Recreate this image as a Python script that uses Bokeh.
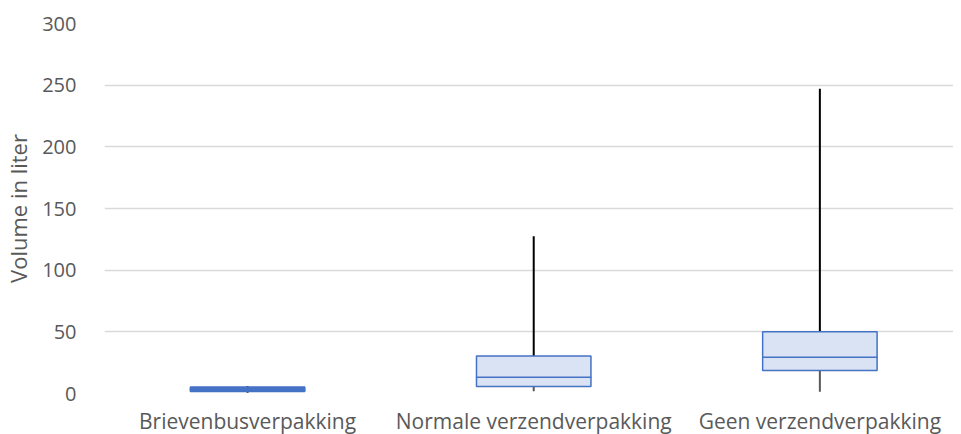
from bokeh.plotting import figure
from bokeh.models import FixedTicker, Range1d, ColumnDataSource
from bokeh.embed import file_html
from bokeh.resources import INLINE

# ---- data ----
categories = ["Brievenbusverpakking", "Normale verzendverpakking", "Geen verzendverpakking"]
positions = [0.5, 1.5, 2.5]
whisker_low = [0.5, 1.8, 1.4]
q1 = [1.6, 5.7, 18.7]
median = [3.0, 13.2, 29.4]
q3 = [5.3, 30.5, 50.0]
whisker_high = [6.0, 127.6, 247.0]
y_ticks = [0, 50, 100, 150, 200, 250, 300]

FONT = "Open Sans"
TXT = "#595959"
BLUE = "#4472C4"
FILL = ["#4472C4", "#DAE3F3", "#DAE3F3"]

p = figure(width=953, height=441, output_backend="svg", toolbar_location=None,
           x_range=Range1d(0, 2.967), y_range=Range1d(0, 300),
           min_border_left=94, min_border_right=0, min_border_top=23, min_border_bottom=48)
p.outline_line_color = None
p.background_fill_color = "white"
p.border_fill_color = "white"

src = ColumnDataSource(dict(x=positions, lo=whisker_low, q1=q1, med=median, q3=q3,
                            hi=whisker_high, fill=FILL))

# whiskers
p.segment(x0="x", y0="q3", x1="x", y1="hi", source=src, line_color="black", line_width=2)
p.segment(x0="x", y0="lo", x1="x", y1="q1", source=src, line_color="#595959", line_width=2)
# boxes
p.vbar(x="x", bottom="q1", top="q3", width=0.4, source=src, fill_color="fill",
       line_color=BLUE, line_width=1.5)
# medians
p.rect(x="x", y="med", width=0.4, height=0.001, source=src, fill_color=None,
       line_color=BLUE, line_width=1.5)

# x axis: category labels
p.xaxis.ticker = FixedTicker(ticks=positions)
p.xaxis.major_label_overrides = {pos: cat for pos, cat in zip(positions, categories)}
p.xaxis.axis_line_color = None
p.xaxis.major_tick_line_color = None
p.xaxis.minor_tick_line_color = None
p.xaxis.major_label_text_font = FONT
p.xaxis.major_label_text_font_size = "21px"
p.xaxis.major_label_text_color = TXT
p.xaxis.major_label_standoff = 7
p.xgrid.visible = False

# y axis
p.ygrid.grid_line_color = "#D9D9D9"
p.ygrid.grid_line_width = 1.3
p.yaxis.ticker = FixedTicker(ticks=y_ticks)
p.yaxis.axis_line_color = None
p.yaxis.major_tick_line_color = None
p.yaxis.minor_tick_line_color = None
p.yaxis.major_label_text_font = FONT
p.yaxis.major_label_text_font_size = "20px"
p.yaxis.major_label_text_color = TXT
p.yaxis.major_label_standoff = 22
p.yaxis.axis_label = "Volume in liter"
p.yaxis.axis_label_text_font = FONT
p.yaxis.axis_label_text_font_size = "22px"
p.yaxis.axis_label_text_font_style = "normal"
p.yaxis.axis_label_text_color = TXT
p.yaxis.axis_label_standoff = 6

open("out.html", "w").write(file_html(p, INLINE))
